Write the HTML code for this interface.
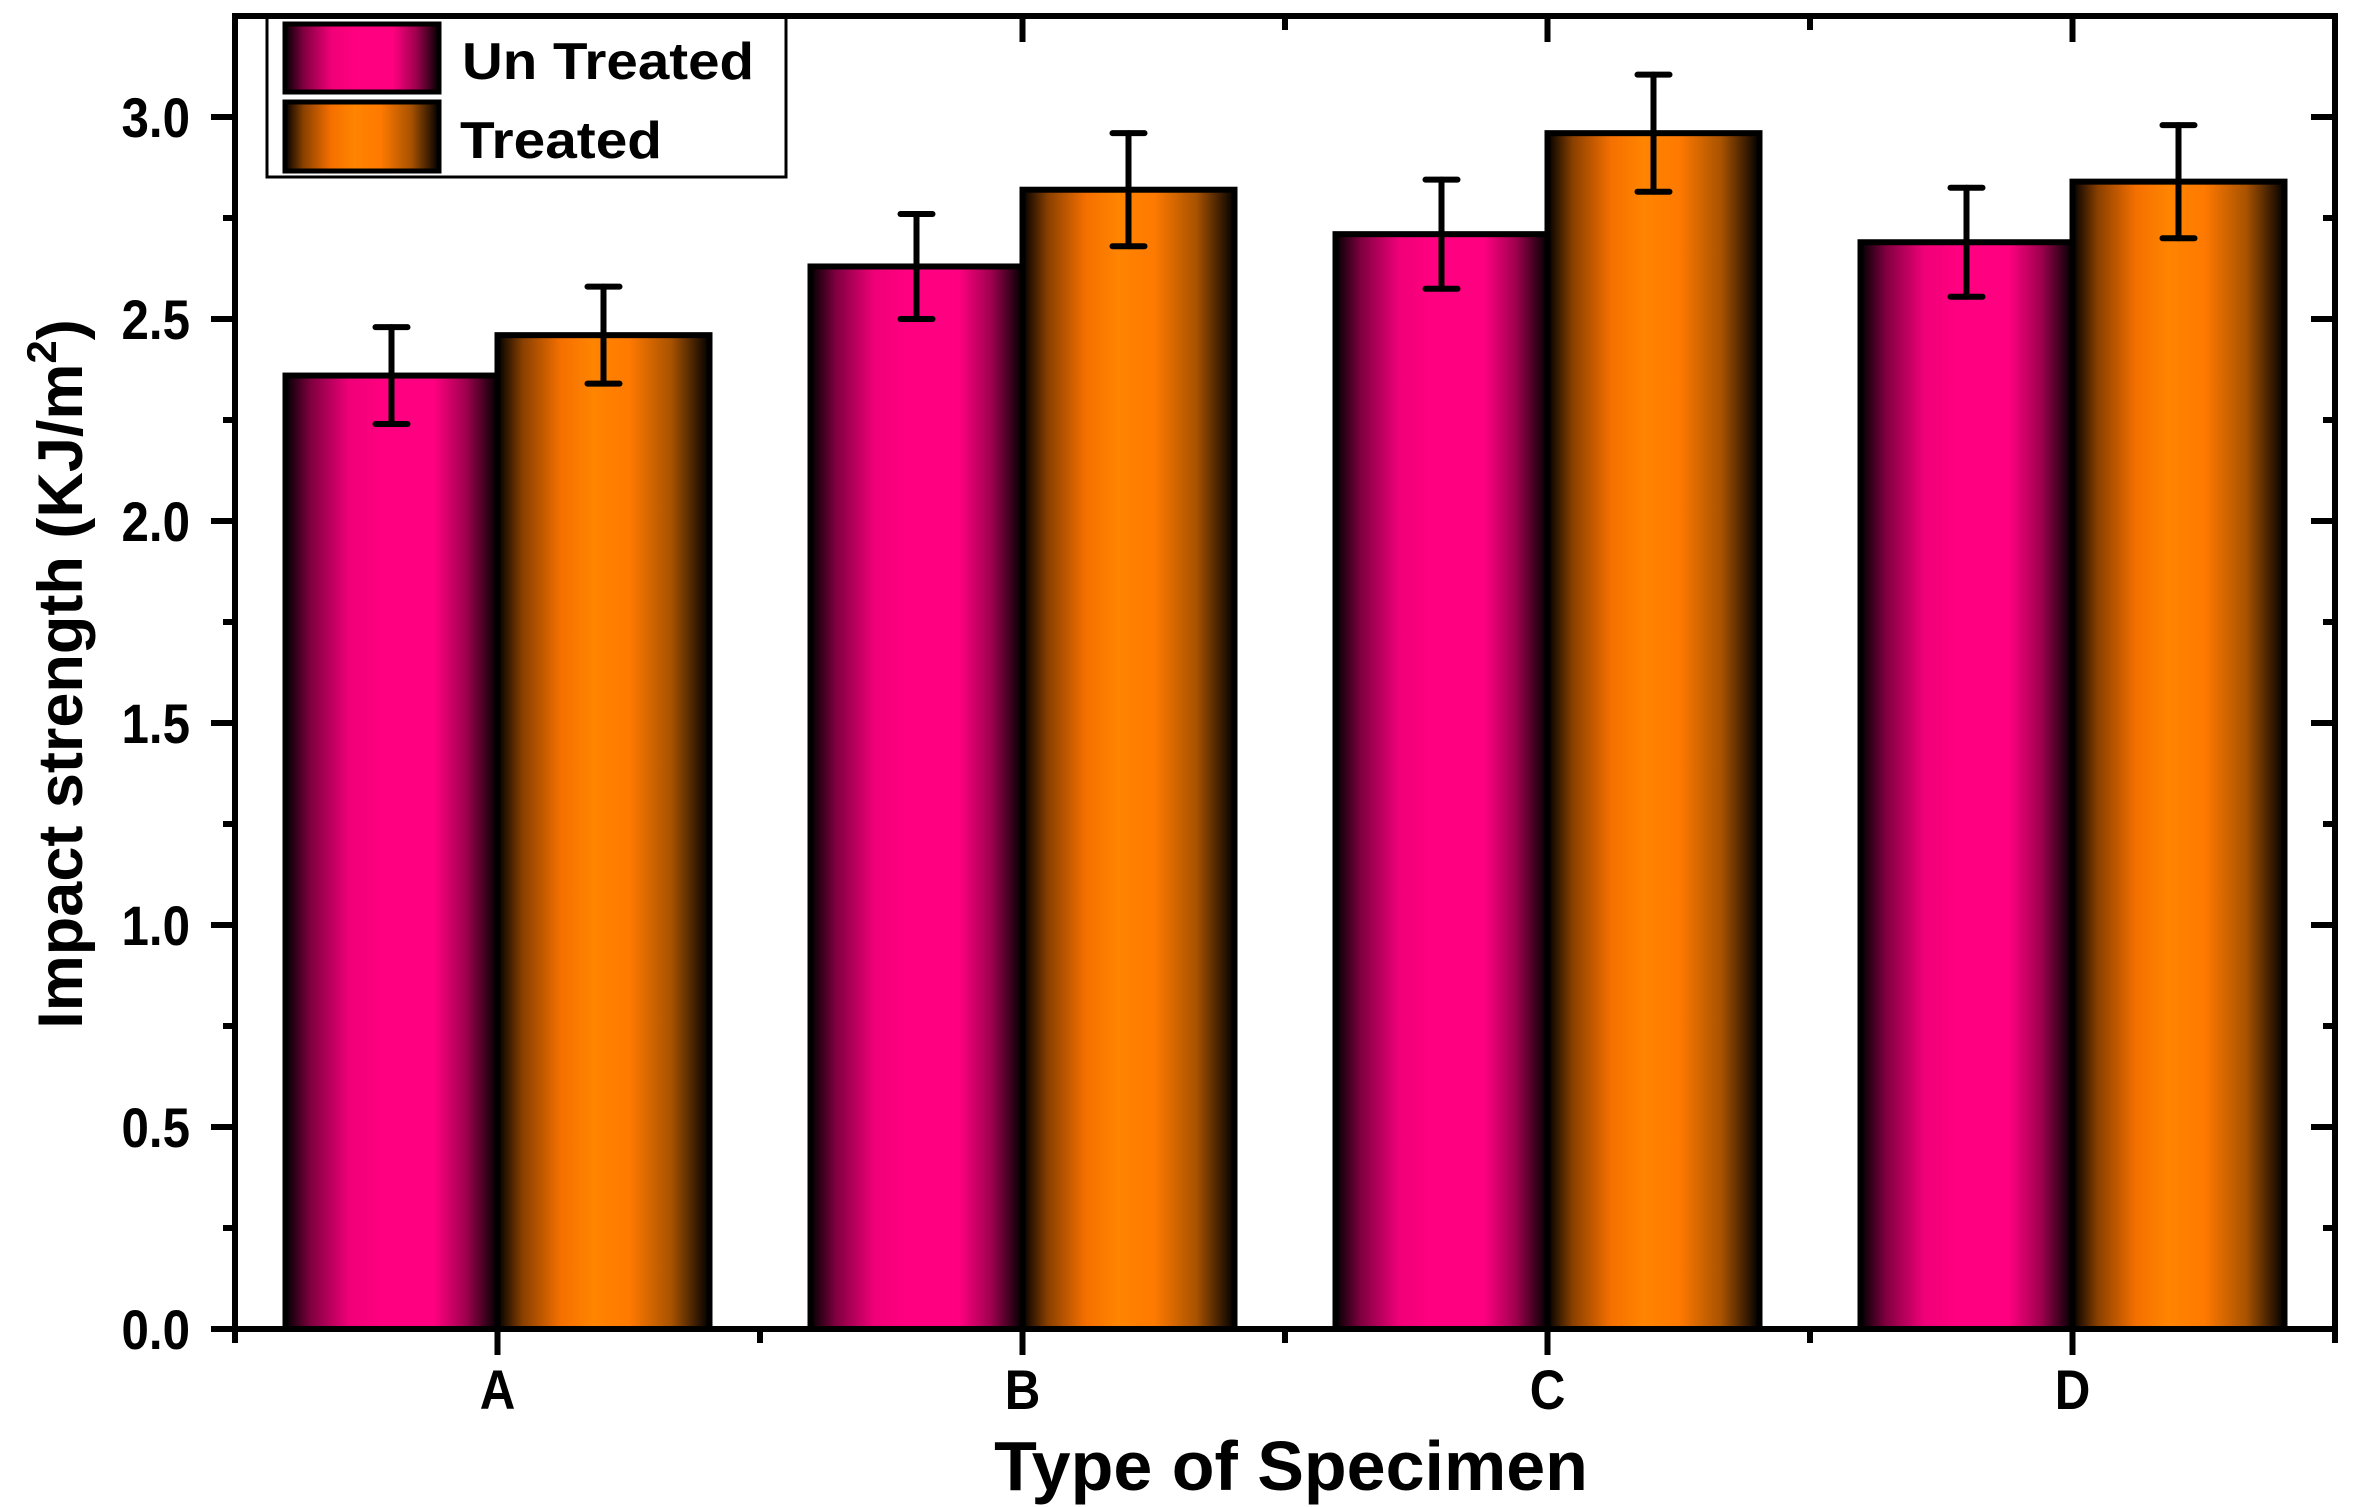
<!DOCTYPE html>
<html><head><meta charset="utf-8"><style>
html,body{margin:0;padding:0;background:#fff;}
svg{display:block;font-family:"Liberation Sans",Arial,sans-serif;font-weight:bold;}
</style></head><body>
<svg id="chart" width="2363" height="1507" viewBox="0 0 2363 1507" xmlns="http://www.w3.org/2000/svg">
<defs>
<linearGradient id="gPink" x1="0" x2="1" y1="0" y2="0">
<stop offset="0" stop-color="#000"/><stop offset="0.12" stop-color="#800040"/><stop offset="0.3" stop-color="#f00078"/><stop offset="0.45" stop-color="#ff0080"/><stop offset="0.7" stop-color="#ff0080"/><stop offset="0.85" stop-color="#a0004f"/><stop offset="1" stop-color="#000"/>
</linearGradient>
<linearGradient id="gOrange" x1="0" x2="1" y1="0" y2="0">
<stop offset="0" stop-color="#000"/><stop offset="0.12" stop-color="#8a4000"/><stop offset="0.3" stop-color="#f57000"/><stop offset="0.45" stop-color="#ff8400"/><stop offset="0.62" stop-color="#ff7a00"/><stop offset="0.82" stop-color="#a85200"/><stop offset="1" stop-color="#000"/>
</linearGradient>
</defs>
<g id="plot"></g>
</svg>
<script>
const categories = ["A","B","C","D"];
const untreated = [2.36, 2.63, 2.71, 2.69];
const treated = [2.46, 2.82, 2.96, 2.84];
const untreatedErr = [0.12, 0.13, 0.135, 0.135];
const treatedErr = [0.12, 0.14, 0.145, 0.14];
const yTicks = [0, 0.5, 1.0, 1.5, 2.0, 2.5, 3.0];
const yTickLabels = ["0.0","0.5","1.0","1.5","2.0","2.5","3.0"];

const L = 235, R = 2335, T = 16, B = 1329;
const yScale = v => B - v * 404;
const xScale = i => L + (i + 0.5) * (R - L) / 4;
const barW = 212;
const NS = "http://www.w3.org/2000/svg";
const g = document.getElementById('plot');
function mk(tag, attrs, parent) {
  const e = document.createElementNS(NS, tag);
  for (const k in attrs) e.setAttribute(k, attrs[k]);
  (parent || g).appendChild(e);
  return e;
}

const seriesList = [
  {vals: untreated, err: untreatedErr, fill: "url(#gPink)", off: -1, name: "untreated"},
  {vals: treated, err: treatedErr, fill: "url(#gOrange)", off: 0, name: "treated"}
];
seriesList.forEach(s => {
  s.vals.forEach((v, i) => {
    const x = xScale(i) + s.off * barW;
    const r = mk('rect', {x: x, y: yScale(v), width: barW, height: B - yScale(v), fill: s.fill, stroke: "#000", "stroke-width": 6});
    
    
  });
});
seriesList.forEach(s => {
  s.vals.forEach((v, i) => {
    const cx = xScale(i) + s.off * barW + barW / 2;
    const eg = mk('g', {stroke: "#000", "stroke-width": 6, "stroke-linecap": "round"});
    
    
    const y1 = yScale(v + s.err[i]), y2 = yScale(v - s.err[i]);
    mk('line', {x1: cx, x2: cx, y1: y1, y2: y2}, eg);
    mk('line', {x1: cx - 16, x2: cx + 16, y1: y1, y2: y1}, eg);
    mk('line', {x1: cx - 16, x2: cx + 16, y1: y2, y2: y2}, eg);
  });
});

const ax = mk('g', {stroke: "#000", "stroke-width": 6, fill: "none"});


mk('rect', {x: L, y: T, width: R - L, height: B - T}, ax);

yTicks.forEach((v, i) => {
  const y = yScale(v);
  mk('line', {x1: L - 24, x2: L, y1: y, y2: y}, ax);
  mk('line', {x1: R - 24, x2: R, y1: y, y2: y}, ax);
  if (v < 3.0) {
    const ym = yScale(v + 0.25);
    mk('line', {x1: L - 12, x2: L, y1: ym, y2: ym}, ax);
    mk('line', {x1: R - 12, x2: R, y1: ym, y2: ym}, ax);
  }
  const t = mk('text', {x: 0, y: 0, "text-anchor": "end", "font-size": 56, transform: "translate(190," + (y + 20) + ") scale(0.88,1)"});
  t.textContent = yTickLabels[i];
  
  
});
categories.forEach((c, i) => {
  const x = xScale(i);
  mk('line', {x1: x, x2: x, y1: B, y2: B + 26}, ax);
  mk('line', {x1: x, x2: x, y1: T, y2: T + 26}, ax);
  if (i < 3) {
    const xm = x + (R - L) / 8;
    mk('line', {x1: xm, x2: xm, y1: B, y2: B + 14}, ax);
    mk('line', {x1: xm, x2: xm, y1: T, y2: T + 14}, ax);
  }
  const t = mk('text', {x: 0, y: 0, "text-anchor": "middle", "font-size": 56, transform: "translate(" + x + ",1409) scale(0.88,1)"});
  t.textContent = c;
  
  
});
mk('line', {x1: L, x2: L, y1: B, y2: B + 14}, ax);
mk('line', {x1: R, x2: R, y1: B, y2: B + 14}, ax);

const xt = mk('text', {x: 1291, y: 1490, "text-anchor": "middle", "font-size": 70});
xt.textContent = "Type of Specimen";


const yt = mk('text', {x: 0, y: 0, "text-anchor": "middle", "font-size": 63, transform: "translate(82,674) rotate(-90)"});
yt.innerHTML = 'Impact strength (KJ/m<tspan dy="-26" font-size="42">2</tspan><tspan dy="26">)</tspan>';



const lg = mk('g', {});


mk('rect', {x: 267, y: 16, width: 519, height: 161, fill: "#fff", stroke: "#000", "stroke-width": 3}, lg);
mk('line', {x1: L, x2: R, y1: T, y2: T, stroke: "#000", "stroke-width": 6}, lg);
const e1 = mk('g', {}, lg);


mk('rect', {x: 285, y: 24, width: 154, height: 68, fill: "url(#gPink)", stroke: "#000", "stroke-width": 5}, e1);
const l1 = mk('text', {x: 462, y: 79, "font-size": 52, textLength: 292, lengthAdjust: "spacingAndGlyphs"}, e1);
l1.textContent = "Un Treated";
const e2 = mk('g', {}, lg);


mk('rect', {x: 285, y: 102, width: 154, height: 69, fill: "url(#gOrange)", stroke: "#000", "stroke-width": 5}, e2);
const l2 = mk('text', {x: 460, y: 158, "font-size": 52, textLength: 202, lengthAdjust: "spacingAndGlyphs"}, e2);
l2.textContent = "Treated";
</script>
</body></html>
